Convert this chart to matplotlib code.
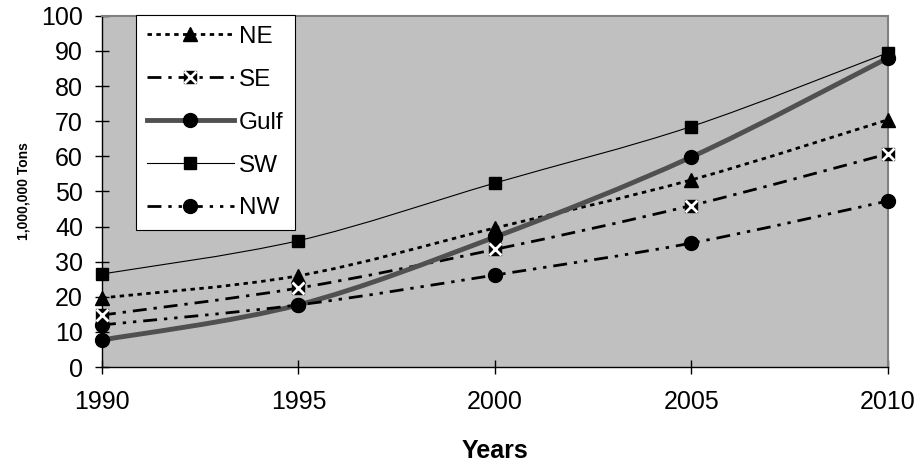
import numpy as np
import matplotlib
matplotlib.use("Agg")
import matplotlib.pyplot as plt
from matplotlib.path import Path
from matplotlib.patches import PathPatch
from matplotlib.lines import Line2D

plt.rcParams['font.family'] = ['Liberation Sans', 'DejaVu Sans']

years = [1990, 1995, 2000, 2005, 2010]
ne = [19.7, 26.0, 39.6, 53.3, 70.4]
se = [14.8, 22.5, 33.5, 46.0, 60.7]
gulf = [7.7, 17.7, 37.0, 59.8, 88.0]
sw = [26.5, 36.0, 52.4, 68.5, 89.5]
nw = [12.0, 17.7, 26.2, 35.3, 47.3]
labels = ["NE", "SE", "Gulf", "SW", "NW"]


def smooth_path(x, y):
    # Excel-like smoothed line: cubic bezier through the points
    pts = np.column_stack([x, y]).astype(float)
    verts = [pts[0]]
    codes = [Path.MOVETO]
    n = len(pts)
    for i in range(n - 1):
        p0 = pts[max(i - 1, 0)]
        p1 = pts[i]
        p2 = pts[i + 1]
        p3 = pts[min(i + 2, n - 1)]
        verts += [p1 + (p2 - p0) / 6, p2 - (p3 - p1) / 6, p2]
        codes += [Path.CURVE4] * 3
    return Path(verts, codes)


styles = {
    "NE": dict(ls=(0, (1.6, 1.6)), lw=2.0, color="black"),
    "SE": dict(ls=(0, (5, 2.5, 1.2, 2.5)), lw=2.0, color="black"),
    "Gulf": dict(ls="-", lw=3.5, color="#505050"),
    "SW": dict(ls="-", lw=0.8, color="black"),
    "NW": dict(ls=(0, (5, 2.5, 1.2, 2.5, 1.2, 2.5)), lw=2.0, color="black"),
}
markers = {
    "NE": dict(marker="^", ms=10),
    "SE": dict(marker="s", ms=8),
    "Gulf": dict(marker="o", ms=10),
    "SW": dict(marker="s", ms=9),
    "NW": dict(marker="o", ms=10),
}
series = dict(zip(labels, [ne, se, gulf, sw, nw]))

fig = plt.figure(figsize=(9.19, 4.67), dpi=100)
ax = fig.add_axes([0.111, 0.214, 0.855, 0.752])
ax.set_facecolor("#c0c0c0")

handles = []
for name in labels:
    st = styles[name]
    mk = markers[name]
    vals = series[name]
    ax.add_patch(PathPatch(smooth_path(years, vals), fill=False, edgecolor=st["color"],
                           linestyle=st["ls"], linewidth=st["lw"], zorder=3))
    ax.plot(years, vals, linestyle="none", marker=mk["marker"], markersize=mk["ms"],
            color="black", clip_on=False, zorder=4)
    h = Line2D([], [], color=st["color"], linestyle=st["ls"], linewidth=st["lw"],
               marker=mk["marker"], markersize=mk["ms"], markerfacecolor="black",
               markeredgecolor="black")
    if name == "SE":
        ax.plot(years, vals, linestyle="none", marker="x", markersize=8, mew=2,
                color="white", clip_on=False, zorder=5)
        hx = Line2D([], [], linestyle="none", marker="x", markersize=8, mew=2, color="white")
        h = (h, hx)
    handles.append(h)

ax.set_xlim(1990, 2010)
ax.set_ylim(0, 100)
ax.set_xticks(years)
ax.set_yticks(np.arange(0, 101, 10))
ax.tick_params(axis="both", direction="inout", length=9.5, width=1, labelsize=18, color="black")
ax.tick_params(axis="x", pad=12)
ax.tick_params(axis="y", pad=9)

for side in ["top", "right"]:
    ax.spines[side].set_color("#808080")
    ax.spines[side].set_linewidth(1.5)
for side in ["left", "bottom"]:
    ax.spines[side].set_color("black")
    ax.spines[side].set_linewidth(1)

ax.set_xlabel("Years", fontsize=18, fontweight="bold", va="center", ha="center")
ax.set_ylabel("1,000,000 Tons", fontsize=10, fontweight="bold", va="center", ha="center")
ax.xaxis.set_label_coords(0.5, -0.24)
ax.yaxis.set_label_coords(-0.1, 0.5)

leg = ax.legend(handles, labels, loc="upper left", bbox_to_anchor=(0.043, 1.003),
                borderaxespad=0, fontsize=17.5, frameon=True, fancybox=False,
                handlelength=3.6, handletextpad=0.2, labelspacing=0.86,
                borderpad=0.45, numpoints=1)
leg.get_frame().set_edgecolor("black")
leg.get_frame().set_linewidth(0.8)
leg.get_frame().set_facecolor("white")
leg.get_frame().set_alpha(1)

fig.savefig("out.png", dpi=100)
